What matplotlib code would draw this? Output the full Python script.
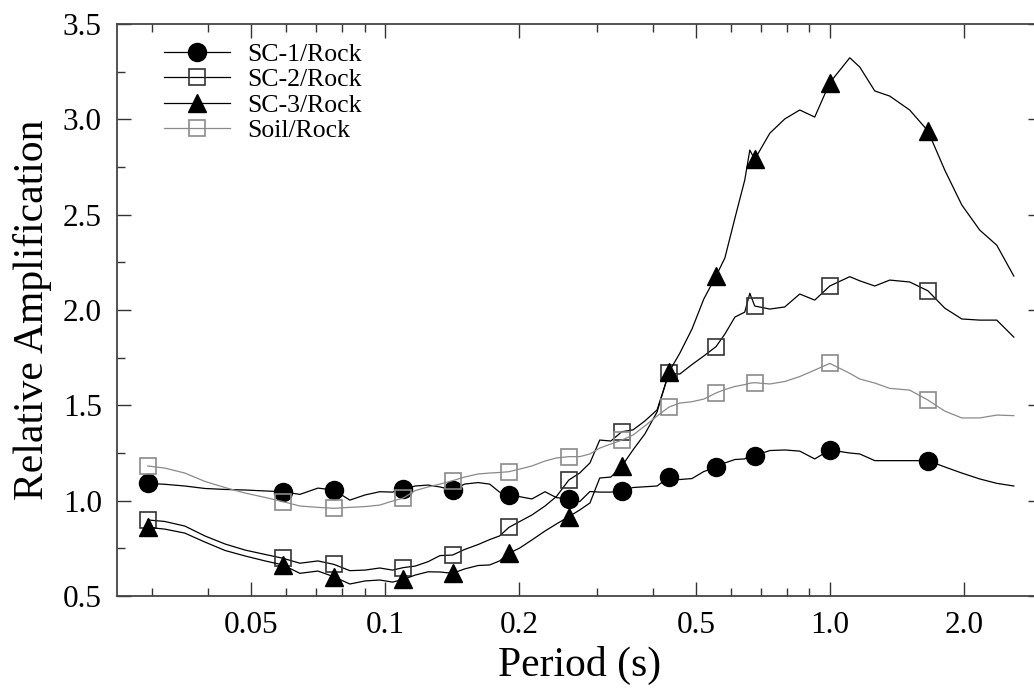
import matplotlib
matplotlib.use('Agg')
import numpy as np
from matplotlib import pyplot as plt
from matplotlib.ticker import FixedLocator, FixedFormatter, NullFormatter

# period grid (s) shared by the four spectral ratio curves
period = [0.0293, 0.032, 0.0355, 0.0394, 0.0437, 0.0485, 0.0538, 0.059, 0.0644, 0.0707,
          0.0768, 0.0834, 0.0902, 0.0974, 0.104, 0.110, 0.117, 0.125, 0.133, 0.142,
          0.151, 0.162, 0.172, 0.181, 0.190, 0.201, 0.214, 0.229, 0.243, 0.259,
          0.274, 0.289, 0.304, 0.322, 0.341, 0.361, 0.384, 0.409, 0.435, 0.460,
          0.490, 0.521, 0.555, 0.581, 0.612, 0.644, 0.661, 0.678, 0.733, 0.792,
          0.856, 0.925, 1.0, 1.109, 1.168, 1.262, 1.364, 1.512, 1.661, 1.813,
          1.980, 2.173, 2.373, 2.592]

sc1 = [1.091, 1.086, 1.077, 1.064, 1.059, 1.056, 1.051, 1.047, 1.033, 1.066,
       1.056, 1.003, 1.030, 1.047, 1.045, 1.061, 1.077, 1.082, 1.072, 1.056,
       1.087, 1.095, 1.087, 1.045, 1.030, 1.021, 1.009, 1.047, 1.016, 1.009,
       0.995, 1.048, 1.045, 1.045, 1.051, 1.069, 1.073, 1.077, 1.123, 1.111,
       1.116, 1.153, 1.175, 1.198, 1.216, 1.219, 1.240, 1.236, 1.263, 1.266,
       1.260, 1.219, 1.266, 1.250, 1.245, 1.210, 1.210, 1.210, 1.210, 1.177,
       1.145, 1.114, 1.091, 1.077]

sc2 = [0.899, 0.891, 0.867, 0.815, 0.773, 0.741, 0.718, 0.698, 0.672, 0.684,
       0.666, 0.633, 0.636, 0.647, 0.636, 0.649, 0.657, 0.680, 0.712, 0.715,
       0.744, 0.770, 0.796, 0.815, 0.860, 0.891, 0.925, 0.972, 1.022, 1.108,
       1.145, 1.198, 1.318, 1.313, 1.362, 1.371, 1.418, 1.476, 1.668, 1.664,
       1.714, 1.759, 1.808, 1.874, 1.963, 1.989, 2.088, 2.021, 2.005, 2.016,
       2.084, 2.052, 2.126, 2.175, 2.153, 2.126, 2.157, 2.147, 2.101, 2.010,
       1.953, 1.947, 1.947, 1.858]

sc3 = [0.860, 0.851, 0.830, 0.783, 0.739, 0.710, 0.684, 0.663, 0.619, 0.631,
       0.601, 0.563, 0.579, 0.584, 0.573, 0.587, 0.610, 0.627, 0.626, 0.619,
       0.642, 0.660, 0.663, 0.684, 0.724, 0.752, 0.794, 0.841, 0.878, 0.916,
       0.951, 0.988, 1.119, 1.124, 1.182, 1.266, 1.350, 1.465, 1.675, 1.773,
       1.900, 2.058, 2.178, 2.273, 2.482, 2.682, 2.839, 2.790, 2.927, 3.002,
       3.049, 3.012, 3.192, 3.323, 3.274, 3.149, 3.122, 3.049, 2.940, 2.734,
       2.551, 2.419, 2.340, 2.178]

soil = [1.182, 1.171, 1.145, 1.101, 1.069, 1.040, 1.017, 0.995, 0.972, 0.965,
        0.960, 0.965, 0.969, 0.977, 0.998, 1.014, 1.053, 1.072, 1.087, 1.105,
        1.124, 1.140, 1.145, 1.148, 1.152, 1.166, 1.182, 1.208, 1.224, 1.231,
        1.231, 1.245, 1.276, 1.297, 1.318, 1.344, 1.392, 1.444, 1.491, 1.512,
        1.519, 1.533, 1.565, 1.583, 1.599, 1.609, 1.616, 1.619, 1.612, 1.625,
        1.651, 1.685, 1.720, 1.668, 1.638, 1.617, 1.589, 1.580, 1.528, 1.470,
        1.434, 1.434, 1.449, 1.446]

# periods where the symbols are plotted
mark_periods = [0.0293, 0.059, 0.0768, 0.110, 0.142, 0.190, 0.259, 0.341,
                0.435, 0.555, 0.678, 1.0, 1.661]
marks = [period.index(t) for t in mark_periods]

plt.rcParams['font.family'] = ['Liberation Serif', 'DejaVu Serif']

fig = plt.figure(figsize=(10.34, 6.92), dpi=100)
ax = fig.add_axes([0.1132, 0.1387, 0.8946, 0.8266])

ax.plot(period, sc1, color='black', lw=0.9, marker='o', ms=13, markevery=marks,
        mfc='black', mec='black', label='SC-1/Rock')
ax.plot(period, sc2, color='black', lw=0.9, marker='s', ms=12, markevery=marks,
        mfc='none', mec='#333333', mew=1.2, label='SC-2/Rock')
ax.plot(period, sc3, color='black', lw=0.9, marker='^', ms=13, markevery=marks,
        mfc='black', mec='black', label='SC-3/Rock')
ax.plot(period, soil, color='#8a8a8a', lw=0.9, marker='s', ms=12, markevery=marks,
        mfc='none', mec='#8a8a8a', mew=1.2, label='Soil/Rock')

ax.set_xscale('log')
ax.set_xlim(0.025, 3.0)
ax.set_ylim(0.5, 3.5)

ax.xaxis.set_major_locator(FixedLocator([0.05, 0.1, 0.2, 0.5, 1.0, 2.0]))
ax.xaxis.set_major_formatter(FixedFormatter(['0.05', '0.1', '0.2', '0.5', '1.0', '2.0']))
ax.xaxis.set_minor_locator(FixedLocator([0.03, 0.04, 0.06, 0.07, 0.08, 0.09,
                                         0.3, 0.4, 0.6, 0.7, 0.8, 0.9, 3.0]))
ax.xaxis.set_minor_formatter(NullFormatter())
ax.set_yticks(np.arange(0.5, 3.51, 0.5))
ax.set_yticklabels(['0.5', '1.0', '1.5', '2.0', '2.5', '3.0', '3.5'])
ax.set_yticks(np.arange(0.75, 3.5, 0.5), minor=True)

ax.tick_params(which='both', direction='in', top=True, right=True, width=1,
               labelsize=22.5, color='#333333')
ax.tick_params(which='major', length=10, pad=11)
ax.tick_params(which='minor', length=6)
for s in ax.spines.values():
    s.set_linewidth(1.3)
    s.set_color('#444444')

ax.set_xlabel('Period (s)', fontsize=30, labelpad=4)
ax.set_ylabel('Relative Amplification', fontsize=30, labelpad=8)

ax.legend(loc='upper left', bbox_to_anchor=(0.0508, 0.966), frameon=False,
          fontsize=18.5, handlelength=2.57, handletextpad=0.66, labelspacing=0.08,
          borderaxespad=0, borderpad=0)

fig.savefig('out.png', dpi=100)
